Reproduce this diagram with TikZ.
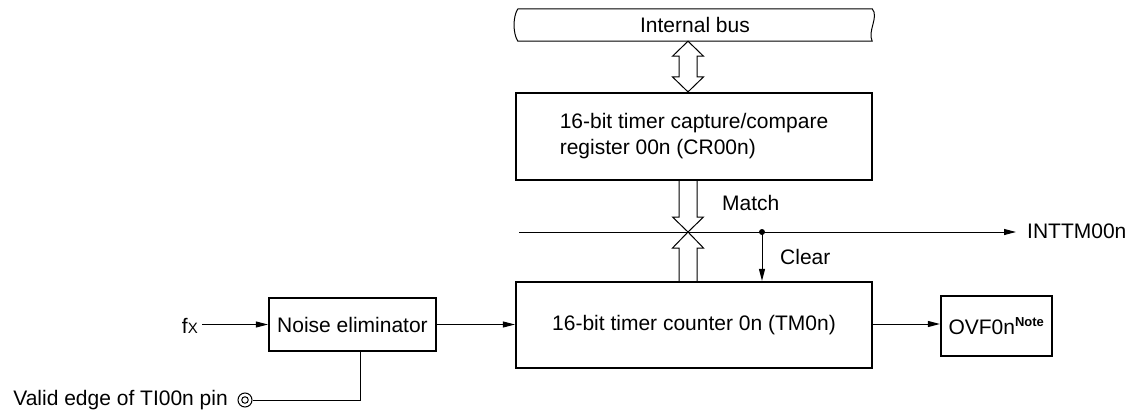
\documentclass[tikz,border=0pt]{standalone}
\usepackage{fontspec}
\setmainfont{Liberation Sans}
\usetikzlibrary{arrows.meta,calc}
\begin{document}
\begin{tikzpicture}[x=1pt,y=-1pt,
  font=\fontsize{21}{26}\selectfont,
  thin line/.style={line width=1pt},
  blockbox/.style={draw, line width=2.2pt, inner sep=0pt},
  arr/.style={thin line, -{Triangle[length=12pt,width=6pt]}},
  hollow/.style={thin line, fill=white, line join=miter}]
\useasboundingbox (0,0) rectangle (1133,415);

% internal bus
\node (bus) [minimum width=354pt, minimum height=32pt, inner sep=0pt] at (695,25) {Internal bus};
\draw[thin line] (bus.north west) -- (bus.north east)
  .. controls ($(bus.north east)+(7,8)$) and ($(bus.south east)+(-5,-10)$) .. (bus.south east)
  -- (bus.south west)
  .. controls ($(bus.south west)+(-5,-8)$) and ($(bus.north west)+(-5,8)$) .. (bus.north west);

% blocks
\node (cr) [blockbox, minimum width=356pt, minimum height=87pt, align=left] at (694,136.5)
  {16-bit timer capture/compare\\register 00n (CR00n)};
\node (tm) [blockbox, minimum width=356pt, minimum height=86pt] at (694,325)
  {16-bit timer counter 0n (TM0n)};
\node (noise) [blockbox, minimum width=167pt, minimum height=53pt] at (352.5,324.5)
  {Noise eliminator};
\node (ovf) [blockbox, minimum width=111pt, minimum height=60pt] at (996.5,326)
  {OVF0n\textsuperscript{\fontsize{13}{13}\selectfont\bfseries Note}};

% vertical axis of the double arrows
\coordinate (ax) at (688,0);
\coordinate (t1) at (ax |- bus.south);
\coordinate (t2) at (ax |- cr.north);
\coordinate (t3) at (ax |- tm.north);
\coordinate (lstart) at (519,232);
\coordinate (mid) at (ax |- lstart);

% bus <-> CR double arrow
\draw[hollow] (t1) -- ++(15.5,15) -- ++(-6.5,0) -- ($(t2)+(9,-15)$) -- ++(6.5,0) -- (t2)
  -- ++(-15.5,-15) -- ++(6.5,0) -- ($(t1)+(-9,15)$) -- ++(-6.5,0) -- cycle;

% CR -> line (match)
\draw[hollow] ($(cr.south -| ax)+(-9,0)$) -- ($(mid)+(-9,-15)$) -- ++(-6.5,0) -- (mid)
  -- ++(15.5,-15) -- ++(-6.5,0) -- ($(cr.south -| ax)+(9,0)$);
% TM -> line
\draw[hollow] ($(t3)+(-9,0)$) -- ($(mid)+(-9,16)$) -- ++(-6.5,0) -- (mid)
  -- ++(15.5,16) -- ++(-6.5,0) -- ($(t3)+(9,0)$);

% horizontal INTTM line
\node (int) [anchor=west, inner sep=0pt] at (1027,231) {INTTM00n};
\coordinate (lend) at (1016,232);
\draw[arr] (lstart) -- (lend);
\node (match) [anchor=west, inner sep=0pt] at (722,203) {Match};

% clear
\coordinate (dot) at (762,232);
\fill (dot) circle (3pt);
\draw[arr] (dot) -- (dot |- tm.north);
\node (clear) [anchor=west, inner sep=0pt] at (780,257) {Clear};

% inputs
\node (fx) [anchor=east, inner sep=0pt] at (198,326) {f{\fontsize{15}{15}\selectfont X}};
\draw[arr] (fx.east |- noise.west) ++(4,0) coordinate (fxs) -- (noise.west);
\draw[arr] (noise.east) -- (tm.west |- noise.east);
\draw[arr] (tm.east |- ovf.west) ++(0,-2) -- (ovf.west |- 0,324);

\node (valid) [anchor=east, inner sep=0pt] at (228,400) {Valid edge of TI00n pin};
\node (pin) [circle, draw, thin line, minimum size=14pt, inner sep=0pt] at (245,400) {};
\node (pinin) [circle, draw, thin line, minimum size=6.5pt, inner sep=0pt] at (pin) {};
\coordinate (nv) at (360,0);
\draw[thin line] (pin.east) -- (nv |- pin.east) -- (nv |- noise.south);
\end{tikzpicture}
\end{document}
